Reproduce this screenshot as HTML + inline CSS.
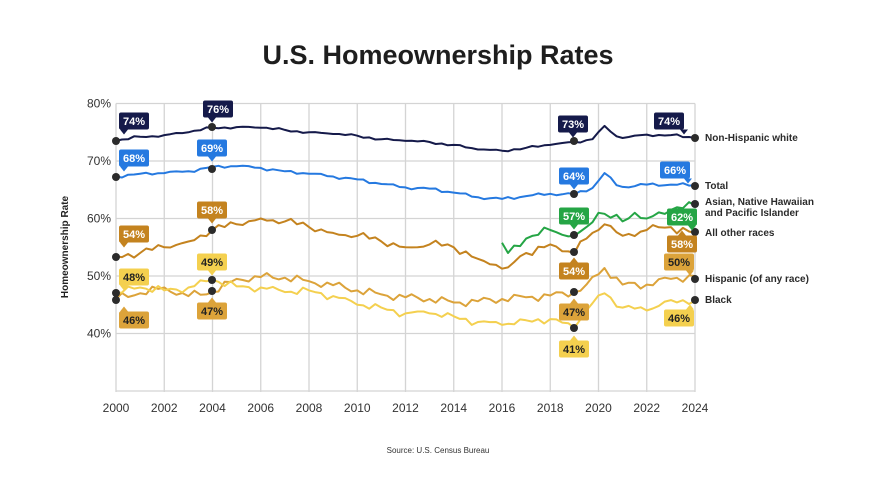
<!DOCTYPE html>
<html><head><meta charset="utf-8"><style>
body{margin:0;background:#fff;width:876px;height:493px;overflow:hidden;font-family:"Liberation Sans",sans-serif}
</style></head><body>
<svg id="s" width="876" height="493" viewBox="0 0 876 493" xmlns="http://www.w3.org/2000/svg" font-family="Liberation Sans, sans-serif">
<text x="438" y="64" text-anchor="middle" font-size="27" font-weight="bold" fill="#1e1e1e">U.S. Homeownership Rates</text>
<text transform="translate(68,247) rotate(-90)" text-anchor="middle" font-size="10" font-weight="bold" fill="#222">Homeownership Rate</text>
<text x="438" y="453" text-anchor="middle" font-size="8" fill="#333">Source: U.S. Census Bureau</text>
<g id="grid" stroke="#d4d4d4" stroke-width="1.3"></g>
<g id="ylab" font-size="12" fill="#333" text-anchor="end"></g>
<g id="xlab" font-size="12" fill="#333" text-anchor="middle"></g>
<g id="lines" fill="none" stroke-width="2" stroke-linejoin="round"></g>
<g id="dots" fill="#2b2b2b"></g>
<g id="calls" font-size="11" font-weight="bold" text-anchor="middle"></g>
<g font-size="10" font-weight="bold" fill="#2b2b2b">
<text x="705" y="141">Non-Hispanic white</text>
<text x="705" y="189">Total</text>
<text x="705" y="205">Asian, Native Hawaiian</text>
<text x="705" y="216">and Pacific Islander</text>
<text x="705" y="236">All other races</text>
<text x="705" y="282">Hispanic (of any race)</text>
<text x="705" y="303">Black</text>
</g>
</svg>
<script>
const NS="http://www.w3.org/2000/svg";
const X=t=>116+(t-2000)*24.125, Y=v=>103.5+(80-v)*5.75;
function el(p,tag,a,txt){const e=document.createElementNS(NS,tag);for(const k in a)e.setAttribute(k,a[k]);if(txt)e.textContent=txt;document.getElementById(p).appendChild(e);return e;}
for(let y=2000;y<=2024;y+=2){el("grid","line",{x1:X(y),x2:X(y),y1:103.5,y2:392});el("xlab","text",{x:X(y),y:412},String(y));}
for(let v=80;v>=30;v-=10){el("grid","line",{x1:116,x2:695,y1:Y(v),y2:Y(v)});if(v>=40)el("ylab","text",{x:111,y:Y(v)+4},v+"%");}
function series(pts,col,amp,seed){
  let d="";const out=[];
  for(let i=0;i<pts.length-1;i++){const [t0,v0]=pts[i],[t1,v1]=pts[i+1];const n=Math.max(1,Math.round((t1-t0)*4));
    for(let k=0;k<n;k++){const t=t0+(t1-t0)*k/n;let v=v0+(v1-v0)*k/n;if(k>0)v+=amp*Math.sin(t*7.3+seed)*Math.cos(t*3.1+seed*2);out.push([t,v]);}}
  out.push(pts[pts.length-1]);
  out.forEach((p,i)=>d+=(i?"L":"M")+X(p[0]).toFixed(1)+","+Y(p[1]).toFixed(1));
  el("lines","path",{d,stroke:col});
}
series([[2000,73.5],[2001,74.2],[2002,74.5],[2003,75],[2004,75.8],[2005,75.9],[2006,75.8],[2007,75.4],[2008,75],[2009,74.7],[2010,74.4],[2011,73.8],[2012,73.5],[2013,73.3],[2014,72.8],[2015,72],[2016,71.8],[2017,72.3],[2018,72.8],[2019,73.3],[2019.75,73.8],[2020.25,76.1],[2020.75,74.3],[2021,74],[2022,74.6],[2023,74.5],[2024,74]],"#151a4a",0.3,1);
series([[2000,67.3],[2001,67.8],[2002,67.9],[2003,68.2],[2004,69],[2005,69.1],[2006,68.8],[2007,68.2],[2008,67.8],[2009,67.3],[2010,66.8],[2011,66],[2012,65.4],[2013,65.2],[2014,64.5],[2015,63.7],[2016,63.4],[2017,63.9],[2018,64.3],[2019,64.2],[2019.75,65.3],[2020.25,67.9],[2020.75,65.8],[2021,65.5],[2022,65.9],[2023,65.9],[2024,65.8]],"#2579e0",0.3,2);
series([[2016,55.8],[2016.25,54],[2017,56.5],[2018,58],[2019,57],[2019.5,58.5],[2020,61],[2021,59.5],[2021.5,61],[2022,60],[2023,61.5],[2024,62.3]],"#25a545",0.8,3);
series([[2000,53.4],[2001,54],[2002,55],[2003,56],[2004,58],[2005,59],[2006,60],[2007,59.5],[2008,58.5],[2009,57.5],[2010,57],[2011,56],[2012,55],[2013,55.5],[2014,55],[2015,53],[2016.25,51.5],[2017,54],[2018,55.5],[2019,54],[2019.5,56.5],[2020.25,59],[2021,57],[2022,58],[2023,58.5],[2024,57.5]],"#c4831f",0.9,4);
series([[2000,46],[2001,47],[2002,48],[2003,46.5],[2004,47.2],[2005,49.5],[2006,49.8],[2007,49.7],[2008,49.1],[2009,48.4],[2010,47.5],[2011,46.8],[2012,46.3],[2013,46],[2014,45.4],[2015,45.6],[2016,46],[2017,46.3],[2018,46.6],[2019,47.2],[2019.5,48.5],[2020.25,51.4],[2021,48.5],[2022,48.5],[2023,49.5],[2024,50]],"#dca33a",0.8,5);
series([[2000,47],[2001,48],[2002,47.5],[2003,48],[2004,49.3],[2005,48.2],[2006,48],[2007,47.2],[2008,47.5],[2009,46.5],[2010,45],[2011,44.5],[2012,43.5],[2013,43.5],[2014,43],[2015,42],[2016,41.5],[2017,42.3],[2018,42.5],[2019,41],[2019.5,44],[2020.25,47],[2021,44.5],[2022,44],[2023,45.8],[2024,45.7]],"#f4d04f",0.8,6);
[[116,141],[212,127],[574,141],[695,138],[116,177],[212,169],[574,194],[695,186],[574,235],[695,204],[116,257],[212,230],[574,252],[695,232],[116,293],[116,300],[212,280],[212,291],[574,292],[574,328],[695,279],[695,300]].forEach(p=>el("dots","circle",{cx:p[0],cy:p[1],r:4}));
function call(cx,cy,txt,bg,fg,dir,px){ // dir: 1 pointer down, -1 up
  const w=30,h=17,x=cx-w/2,y=cy-h/2;px=px===undefined?cx:px;
  el("calls","rect",{x,y,width:w,height:h,rx:2,fill:bg});
  const py=dir>0?y+h:y, ty=dir>0?py+5:py-5;
  el("calls","polygon",{points:`${px-4},${py} ${px+4},${py} ${px},${ty}`,fill:bg});
  el("calls","text",{x:cx,y:cy+4,fill:fg},txt);
}
const N="#151a4a",B="#2579e0",G="#25a545",Br="#c4831f",Gd="#dca33a",Yl="#f4d04f";
call(134,121,"74%",N,"#fff",1,124);call(218,109,"76%",N,"#fff",1,212);call(573,124,"73%",N,"#fff",1);call(669,121,"74%",N,"#fff",1,684);
call(134,158,"68%",B,"#fff",1,124);call(212,148,"69%",B,"#fff",1);call(574,176,"64%",B,"#fff",1);call(675,170,"66%",B,"#fff",1,688);
call(574,216,"57%",G,"#fff",1);call(682,217,"62%",G,"#fff",1,692);
call(134,234,"54%",Br,"#fff",1,124);call(212,210,"58%",Br,"#fff",1);call(574,271,"54%",Br,"#fff",-1);call(682,244,"58%",Br,"#fff",-1);
call(679,262,"50%",Gd,"#222",1,690);call(134,320,"46%",Gd,"#222",-1,124);call(212,311,"47%",Gd,"#222",-1);call(574,312,"47%",Gd,"#222",-1);
call(134,277,"48%",Yl,"#222",1,124);call(212,262,"49%",Yl,"#222",1);call(574,349,"41%",Yl,"#222",-1);call(679,318,"46%",Yl,"#222",-1,690);
</script>
</body></html>
